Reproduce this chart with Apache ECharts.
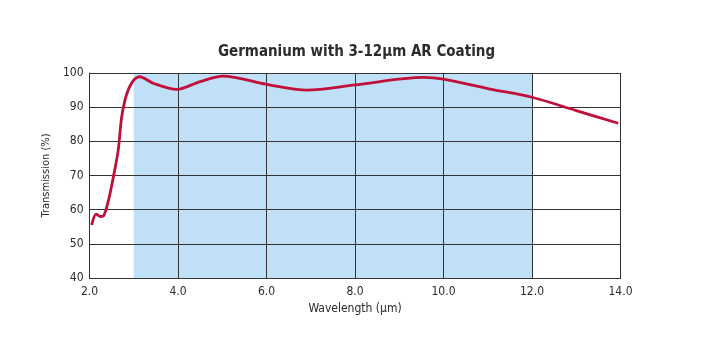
<!DOCTYPE html>
<html>
<head>
<meta charset="utf-8">
<script src="https://cdn.jsdelivr.net/npm/echarts@6/dist/echarts.min.js"></script>
<style>
  html, body { margin: 0; padding: 0; background: #fff; }
  #chart { width: 713px; height: 349px; }
</style>
</head>
<body>
<div id="chart"></div>
<script>
// Transmission curve of AR-coated germanium
const wavelength = [2.05, 2.15, 2.25, 2.32, 2.43, 2.54, 2.65, 2.72, 2.80, 2.88, 2.97, 3.05, 3.13, 3.44, 3.97, 4.5, 5.02, 6.0, 6.91, 8.0, 9.54, 10.0, 11.05, 12.0, 13.0, 13.95];
const transmission = [55.5, 58.7, 58.0, 58.2, 62.8, 69.6, 77.5, 86.5, 92.0, 95.2, 97.4, 98.5, 98.9, 97.0, 95.2, 97.5, 99.1, 96.7, 95.0, 96.5, 98.7, 98.2, 95.3, 92.9, 89.0, 85.3];
// Design band of the coating
const coatingBand = [3, 12];

const FONT = '"DejaVu Sans Condensed", "Liberation Sans Narrow", "Liberation Sans", sans-serif';

const chart = echarts.init(document.getElementById('chart'));
chart.setOption({
  animation: false,
  title: {
    text: 'Germanium with 3-12\u00b5m AR Coating',
    left: 'center',
    top: 40,
    textStyle: { fontFamily: FONT, fontSize: 15, fontWeight: 'bold', color: '#2b2b2b' }
  },
  grid: { left: 89.5, right: 92.5, top: 73, bottom: 71 },
  xAxis: {
    type: 'value',
    z: 1,
    min: 2, max: 14, interval: 2,
    name: 'Wavelength (\u00b5m)',
    nameLocation: 'middle',
    nameGap: 25,
    nameTextStyle: { fontFamily: FONT, fontSize: 12, color: '#2b2b2b' },
    axisLine: { lineStyle: { color: '#333', width: 1 } },
    axisTick: { show: false },
    axisLabel: { fontFamily: FONT, fontSize: 12, color: '#2b2b2b', margin: 8,
                 formatter: v => v.toFixed(1) },
    splitLine: { show: true, lineStyle: { color: '#333', width: 1 } }
  },
  yAxis: {
    type: 'value',
    z: 1,
    min: 40, max: 100, interval: 10,
    name: 'Transmission (%)',
    nameLocation: 'middle',
    nameGap: 9,
    nameRotate: 90,
    nameTextStyle: { fontFamily: FONT, fontSize: 11, color: '#2b2b2b' },
    axisLine: { show: true, lineStyle: { color: '#333', width: 1 } },
    axisTick: { show: false },
    axisLabel: { fontFamily: FONT, fontSize: 12, color: '#2b2b2b', margin: 6 },
    splitLine: { show: true, lineStyle: { color: '#333', width: 1 } }
  },
  series: [
    {
      // shaded coating band, kept beneath the grid lines
      type: 'line',
      data: [],
      z: 0,
      silent: true,
      markArea: {
        silent: true,
        z: 0,
        itemStyle: { color: '#bfe0f7' },
        data: [[{ xAxis: coatingBand[0] }, { xAxis: coatingBand[1] }]]
      }
    },
    {
      type: 'line',
      data: wavelength.map((w, i) => [w, transmission[i]]),
      smooth: 0.3,
      showSymbol: false,
      lineStyle: { color: '#c0103a', width: 2.8 },
      z: 5
    }
  ]
});
</script>
</body>
</html>
